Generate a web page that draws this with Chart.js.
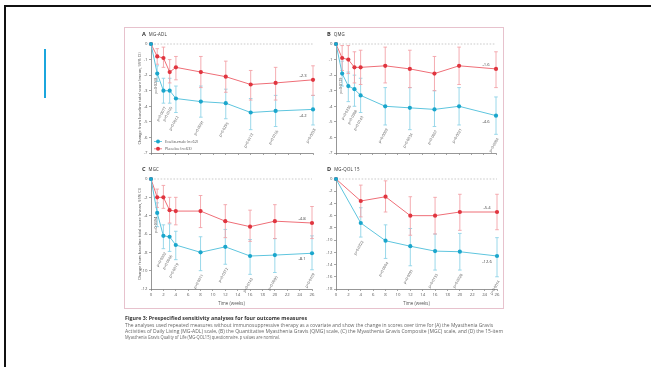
<!DOCTYPE html>
<html>
<head>
<meta charset="utf-8">
<script src="https://cdn.jsdelivr.net/npm/chart.js@4.4.1/dist/chart.umd.min.js"></script>
<style>
  html, body { margin: 0; padding: 0; background: #fff; }
  body { width: 651px; height: 367px; position: relative; overflow: hidden; font-family: "Open Sans", sans-serif; }
  .frame-top { position: absolute; left: 4px; top: 5px; width: 647px; height: 2px; background: #111; }
  .frame-left { position: absolute; left: 4px; top: 5px; width: 2px; height: 362px; background: #111; }
  .accent { position: absolute; left: 44px; top: 49px; width: 2px; height: 49px; background: #1ba6dd; }
  .figure { position: absolute; left: 124px; top: 27px; width: 378px; height: 280px; border: 1px solid #e7c2cd; }
  .soft { filter: blur(0.35px); }
  canvas { position: absolute; }
  .ptitle { position: absolute; white-space: nowrap; line-height: 1; color: #333; font-size: 4.4px; letter-spacing: 0.2px; }
  .ptitle b { font-size: 5.6px; margin-right: 3px; letter-spacing: 0; }
  .cap { position: absolute; left: 125px; white-space: nowrap; line-height: 1; transform-origin: 0 50%; }
  .cap.title { font-weight: bold; color: #333; font-size: 5px; }
  .cap.body { color: #666; font-size: 4.6px; }
</style>
</head>
<body>
<div class="frame-top"></div>
<div class="frame-left"></div>
<div class="accent"></div>
<div class="figure soft"></div>

<div class="ptitle soft" style="left:142px;top:32px"><b>A</b>MG-ADL</div>
<div class="ptitle soft" style="left:327px;top:32px"><b>B</b>QMG</div>
<div class="ptitle soft" style="left:142px;top:167px"><b>C</b>MGC</div>
<div class="ptitle soft" style="left:327px;top:167px"><b>D</b>MG-QOL 15</div>

<canvas id="panelA" class="soft" width="196" height="122" style="left:124px;top:38px"></canvas>
<canvas id="panelB" class="soft" width="184" height="122" style="left:320px;top:38px"></canvas>
<canvas id="panelC" class="soft" width="196" height="136" style="left:124px;top:173px"></canvas>
<canvas id="panelD" class="soft" width="184" height="136" style="left:320px;top:173px"></canvas>

<div class="cap title soft" data-w="182" style="top:316px">Figure 3: Prespecified sensitivity analyses for four outcome measures</div>
<div class="cap body soft" data-w="368" style="top:323.4px">The analyses used repeated measures without immunosuppressive therapy as a covariate and show the change in scores over time for (A) the Myasthenia Gravis</div>
<div class="cap body soft" data-w="378" style="top:329.4px">Activities of Daily Living (MG-ADL) scale, (B) the Quantitative Myasthenia Gravis (QMG) scale, (C) the Myasthenia Gravis Composite (MGC) scale, and (D) the 15-item</div>
<div class="cap body soft" data-w="155" style="top:335.4px">Myasthenia Gravis Quality of Life (MG-QOL15) questionnaire. p values are nominal.</div>

<script>
// Visit schedule (weeks)
const weeks = [0, 1, 2, 3, 4, 8, 12, 16, 20, 26];
const weeksQol = [0, 4, 8, 12, 16, 20, 26];

// A: MG-ADL — mean change and 95% CI
const ecuAdl    = [0, -1.9, -3.0, -3.0, -3.5, -3.7, -3.8, -4.4, -4.3, -4.2];
const ecuAdlLo  = [0, -2.4, -3.8, -3.8, -4.4, -4.7, -4.8, -5.5, -5.3, -5.2];
const ecuAdlHi  = [0, -1.4, -2.2, -2.2, -2.7, -2.7, -2.9, -3.5, -3.3, -3.3];
const plaAdl    = [0, -0.8, -0.9, -1.8, -1.5, -1.8, -2.1, -2.6, -2.5, -2.3];
const plaAdlLo  = [0, -1.3, -1.5, -2.5, -2.3, -2.8, -3.1, -3.6, -3.6, -3.3];
const plaAdlHi  = [0, -0.3, -0.2, -1.0, -0.8, -0.8, -1.1, -1.7, -1.5, -1.4];
const pAdl = ['p=0·0268', 'p=0·0077', 'p=0·0105', 'p=0·0012', 'p=0·0091', 'p=0·0295', 'p=0·0113', 'p=0·0155', 'p=0·0058'];

// B: QMG
const ecuQmg    = [0, -1.9, -2.7, -2.9, -3.3, -4.0, -4.1, -4.2, -4.0, -4.6];
const ecuQmgLo  = [0, -2.7, -3.7, -4.0, -4.4, -5.2, -5.5, -5.3, -5.2, -5.8];
const ecuQmgHi  = [0, -1.1, -1.8, -2.0, -2.2, -2.8, -2.8, -3.0, -2.8, -3.4];
const plaQmg    = [0, -0.9, -1.0, -1.5, -1.5, -1.4, -1.6, -1.9, -1.4, -1.6];
const plaQmgLo  = [0, -1.7, -1.9, -2.5, -2.6, -2.5, -2.8, -3.0, -2.6, -2.8];
const plaQmgHi  = [0, -0.1, -0.1, -0.5, -0.4, -0.2, -0.4, -0.8, -0.2, -0.5];
const pQmg = ['p=0·0129', 'p=0·0236', 'p=0·0308', 'p=0·0143', 'p=0·0009', 'p=0·0034', 'p=0·0057', 'p=0·0021', 'p=0·0004'];

// C: MGC
const ecuMgc    = [0, -3.7, -6.2, -6.3, -7.2, -8.0, -7.4, -8.4, -8.3, -8.1];
const ecuMgcLo  = [0, -5.2, -7.6, -7.9, -8.8, -10.0, -9.3, -10.4, -10.2, -9.9];
const ecuMgcHi  = [0, -2.6, -5.0, -4.9, -5.7, -6.3, -5.5, -6.6, -6.5, -6.2];
const plaMgc    = [0, -2.0, -2.0, -3.4, -3.5, -3.5, -4.6, -5.2, -4.6, -4.8];
const plaMgcLo  = [0, -3.1, -3.2, -4.8, -5.0, -5.3, -6.4, -6.8, -6.5, -6.5];
const plaMgcHi  = [0, -1.1, -0.7, -2.0, -2.0, -1.8, -2.8, -3.4, -2.8, -3.0];
const pMgc = ['p=0·0394', 'p=0·0002', 'p=0·0006', 'p=0·0019', 'p=0·0011', 'p=0·0372', 'p=0·0143', 'p=0·0095', 'p=0·0109'];

// D: MG-QOL15
const ecuQol    = [0, -7.2, -10.1, -11.0, -11.8, -11.9, -12.6];
const ecuQolLo  = [0, -9.5, -13.0, -14.2, -14.9, -14.9, -16.0];
const ecuQolHi  = [0, -4.7, -7.5, -8.1, -9.0, -8.9, -9.6];
const plaQol    = [0, -3.6, -2.9, -6.0, -6.0, -5.4, -5.4];
const plaQolLo  = [0, -6.2, -5.4, -9.2, -9.0, -8.4, -8.3];
const plaQolHi  = [0, -1.0, -0.3, -2.9, -3.0, -2.5, -2.5];
const pQol = ['p=0·0322', 'p=0·0004', 'p=0·0091', 'p=0·0155', 'p=0·0028', 'p=0·0014'];

const seriesNames = ['Eculizumab (n=62)', 'Placebo (n=63)'];
const yAxisTitle = 'Change from baseline total score (mean, 95% CI)';
const xAxisTitle = 'Time (weeks)';

const FONT = '"Open Sans", sans-serif';
const BLUE = { point: '#1aa6cc', line: '#5ec5de', err: '#8ed4e8' };
const RED  = { point: '#e0353f', line: '#ef6e77', err: '#f3a3a8' };
const AXIS = '#6a6a6a';

function pts(xs, ys) { return xs.map((x, i) => ({ x, y: ys[i] })); }

// Vertical 95% CI whiskers, zero reference line, p labels, end values, legend
const figurePlugin = {
  id: 'figureExtras',
  beforeDatasetsDraw(chart) {
    const { ctx, scales: { x, y } } = chart;
    ctx.save();
    // dashed reference line at zero
    ctx.strokeStyle = '#b4b4b4';
    ctx.lineWidth = 0.7;
    ctx.setLineDash([1.6, 1.6]);
    ctx.beginPath();
    ctx.moveTo(x.getPixelForValue(0), y.getPixelForValue(0));
    ctx.lineTo(x.getPixelForValue(26), y.getPixelForValue(0));
    ctx.stroke();
    ctx.setLineDash([]);
    // error bars
    chart.data.datasets.forEach(ds => {
      ctx.strokeStyle = ds.errColor;
      ctx.lineWidth = 0.9;
      ds.data.forEach((p, i) => {
        const lo = ds.errLo[i], hi = ds.errHi[i];
        if (lo === hi) return;
        const px = x.getPixelForValue(p.x);
        const y1 = y.getPixelForValue(hi), y2 = y.getPixelForValue(lo);
        ctx.beginPath();
        ctx.moveTo(px, y1); ctx.lineTo(px, y2);
        ctx.moveTo(px - 1.8, y1); ctx.lineTo(px + 1.8, y1);
        ctx.moveTo(px - 1.8, y2); ctx.lineTo(px + 1.8, y2);
        ctx.stroke();
      });
    });
    ctx.restore();
  },
  afterDatasetsDraw(chart) {
    const { ctx, scales: { x, y }, chartArea } = chart;
    const ecu = chart.data.datasets[0], pla = chart.data.datasets[1];
    ctx.save();
    // p values under the eculizumab whiskers
    ctx.fillStyle = '#555';
    ctx.font = '3.7px ' + FONT;
    ctx.textBaseline = 'middle';
    ctx.textAlign = 'right';
    ecu.pLabels.forEach((txt, k) => {
      const i = k + 1;
      const px = x.getPixelForValue(ecu.data[i].x);
      ctx.save();
      if (ecu.data[i].x === 1) {
        ctx.translate(px - 1.2, y.getPixelForValue(ecu.data[i].y) + 4);
        ctx.rotate(-Math.PI / 2);
      } else {
        ctx.translate(px + 2, y.getPixelForValue(ecu.errLo[i]) + 4);
        ctx.rotate(-Math.PI / 3);
      }
      ctx.fillText(txt, 0, 0);
      ctx.restore();
    });
    // final values at week 26
    ctx.font = '4.2px ' + FONT;
    ctx.fillStyle = '#444';
    ctx.textAlign = 'center';
    [[pla, -4.5], [ecu, 6]].forEach(([ds, dy]) => {
      const last = ds.data[ds.data.length - 1];
      const px = x.getPixelForValue(last.x) - 10;
      const py = y.getPixelForValue(last.y) + dy;
      ctx.fillText(last.y.toFixed(1), px, py);
    });
    // legend inside panel A
    if (chart.options.plugins.figureExtras && chart.options.plugins.figureExtras.legend) {
      ctx.textAlign = 'left';
      ctx.font = '3.9px ' + FONT;
      [ecu, pla].forEach((ds, k) => {
        const ly = chartArea.bottom - 11.5 + k * 7.3;
        const lx = chartArea.left + 7;
        ctx.strokeStyle = ds.borderColor;
        ctx.lineWidth = 0.9;
        ctx.beginPath(); ctx.moveTo(lx - 4, ly); ctx.lineTo(lx + 4, ly); ctx.stroke();
        ctx.fillStyle = ds.pointBackgroundColor;
        ctx.beginPath(); ctx.arc(lx, ly, 2, 0, Math.PI * 2); ctx.fill();
        ctx.fillStyle = '#555';
        ctx.fillText(ds.label, lx + 7, ly);
      });
    }
    ctx.restore();
  }
};

function makePanel(id, cfg) {
  const ds = (name, col, xs, ys, lo, hi, extra) => Object.assign({
    label: name,
    data: pts(xs, ys),
    borderColor: col.line,
    pointBackgroundColor: col.point,
    pointBorderWidth: 0,
    pointRadius: 2.1,
    borderWidth: 1,
    tension: 0,
    clip: false,
    errColor: col.err,
    errLo: lo,
    errHi: hi
  }, extra || {});

  new Chart(document.getElementById(id), {
    type: 'line',
    data: {
      datasets: [
        ds(seriesNames[0], BLUE, cfg.xs, cfg.ecu, cfg.ecuLo, cfg.ecuHi, { pLabels: cfg.p }),
        ds(seriesNames[1], RED, cfg.xs, cfg.pla, cfg.plaLo, cfg.plaHi)
      ]
    },
    plugins: [figurePlugin],
    options: {
      responsive: false,
      animation: false,
      devicePixelRatio: 1,
      layout: { padding: { top: 6, right: cfg.padRight, left: 0, bottom: 0 } },
      plugins: {
        legend: { display: false },
        tooltip: { enabled: false },
        figureExtras: { legend: !!cfg.legend }
      },
      scales: {
        x: {
          type: 'linear', min: 0, max: 26,
          ticks: { stepSize: 2, display: cfg.xLabels, autoSkip: false, maxRotation: 0,
                   font: { size: 4.3, family: FONT }, color: '#555', padding: 1 },
          grid: { drawOnChartArea: false, drawTicks: true, tickLength: 2, color: AXIS, lineWidth: 0.6 },
          border: { display: true, color: AXIS, width: 0.7 },
          title: { display: cfg.xLabels, text: xAxisTitle, font: { size: 4.4, family: FONT }, color: '#555',
                   padding: { top: 0, bottom: 2.4 } },
          afterFit: s => { s.height = cfg.xHeight; }
        },
        y: {
          min: cfg.yMin, max: 0,
          ticks: { stepSize: cfg.yStep, autoSkip: false, font: { size: 4.3, family: FONT }, color: '#555', padding: 1.5 },
          grid: { drawOnChartArea: false, drawTicks: true, tickLength: 2, color: AXIS, lineWidth: 0.6 },
          border: { display: true, color: AXIS, width: 0.7 },
          title: { display: !!cfg.yTitle, text: yAxisTitle, font: { size: 4.1, family: FONT }, color: '#555',
                   padding: { top: 13, bottom: 0 } },
          afterFit: s => { s.width = cfg.yWidth; }
        }
      }
    }
  });
}

makePanel('panelA', { xs: weeks, ecu: ecuAdl, ecuLo: ecuAdlLo, ecuHi: ecuAdlHi,
  pla: plaAdl, plaLo: plaAdlLo, plaHi: plaAdlHi, p: pAdl,
  yMin: -7, yStep: 1, yWidth: 27, xHeight: 7, padRight: 7, xLabels: false, yTitle: true, legend: true });
makePanel('panelB', { xs: weeks, ecu: ecuQmg, ecuLo: ecuQmgLo, ecuHi: ecuQmgHi,
  pla: plaQmg, plaLo: plaQmgLo, plaHi: plaQmgHi, p: pQmg,
  yMin: -7, yStep: 1, yWidth: 16, xHeight: 7, padRight: 8, xLabels: false, yTitle: false });
makePanel('panelC', { xs: weeks, ecu: ecuMgc, ecuLo: ecuMgcLo, ecuHi: ecuMgcHi,
  pla: plaMgc, plaLo: plaMgcLo, plaHi: plaMgcHi, p: pMgc,
  yMin: -12, yStep: 2, yWidth: 27, xHeight: 20, padRight: 8, xLabels: true, yTitle: true });
makePanel('panelD', { xs: weeksQol, ecu: ecuQol, ecuLo: ecuQolLo, ecuHi: ecuQolHi,
  pla: plaQol, plaLo: plaQolLo, plaHi: plaQolHi, p: pQol,
  yMin: -18, yStep: 2, yWidth: 16, xHeight: 20, padRight: 7, xLabels: true, yTitle: false });

// stretch caption lines to the column width
document.querySelectorAll('.cap').forEach(el => {
  const target = +el.dataset.w;
  const w = el.getBoundingClientRect().width;
  if (w > 0) el.style.transform = 'scaleX(' + (target / w).toFixed(3) + ')';
});
</script>
</body>
</html>
